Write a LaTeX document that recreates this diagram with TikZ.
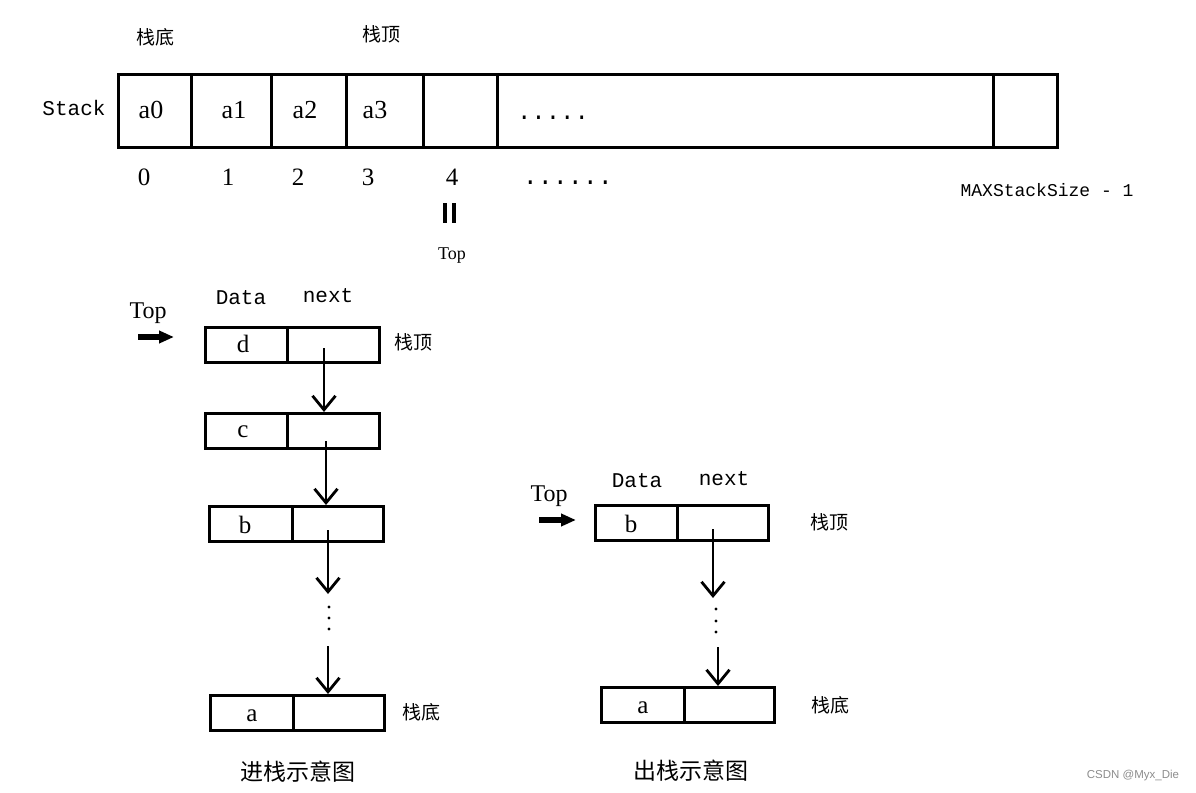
\documentclass[tikz,border=0pt]{standalone}
\usepackage{fontspec}
\setmainfont{Liberation Serif}
\setmonofont{Liberation Mono}
\setsansfont{Liberation Sans}
\newfontfamily\cjk{Noto Sans CJK SC}
\usetikzlibrary{arrows.meta}
\begin{document}
\begin{tikzpicture}[x=1pt,y=-1pt,
  cell/.style={draw, line width=3pt, inner sep=0pt, minimum height=73pt, anchor=north west},
  fld/.style={draw, line width=2.6pt, inner sep=0pt, minimum height=35pt, anchor=north west},
  val/.style={inner sep=0pt, anchor=base, font=\fontsize{25}{28}\selectfont},
  bigval/.style={inner sep=0pt, anchor=base, font=\fontsize{26}{30}\selectfont},
  mono/.style={inner sep=0pt, font=\ttfamily\fontsize{21}{25}\selectfont},
  cn/.style={inner sep=0pt, font=\cjk\fontsize{19}{23}\selectfont},
  cnbig/.style={inner sep=0pt, font=\cjk\fontsize{23}{27}\selectfont},
  link/.style={line width=2.6pt, -{Straight Barb[length=14pt,width=23pt,line width=2.8pt]}},
  fat/.style={line width=6pt, -{Triangle[length=15pt,width=12pt]}},
  vdot/.style={fill=black, draw=none}]
\useasboundingbox (0,0) rectangle (1196,792);

% ---------- array ----------
\node[cell, minimum width=73pt]  (c0) at (117,73) {};
\node[cell, minimum width=80pt]  (c1) at (190,73) {};
\node[cell, minimum width=75pt]  (c2) at (270,73) {};
\node[cell, minimum width=77pt]  (c3) at (345,73) {};
\node[cell, minimum width=74pt]  (c4) at (422,73) {};
\node[cell, minimum width=496pt] (c5) at (496,73) {};
\node[cell, minimum width=64pt]  (c6) at (992,73) {};

\node[bigval] (va0) at (151,118) {a0};
\node[bigval] (va1) at (234,118) {a1};
\node[bigval] (va2) at (305,118) {a2};
\node[bigval] (va3) at (375,118) {a3};
\node[inner sep=0pt, anchor=base, font=\ttfamily\fontsize{24}{28}\selectfont] (vdots) at (553,119) {.....};

\node[mono] (stack) at (74,108) {Stack};
\node[cn] (bot0) at (155,37) {栈底};
\node[cn] (top0) at (381,34) {栈顶};

\node[val] (i0) at (144,185) {0};
\node[val] (i1) at (228,185) {1};
\node[val] (i2) at (298,185) {2};
\node[val] (i3) at (368,185) {3};
\node[val] (i4) at (452,185) {4};
\node[inner sep=0pt, anchor=base, font=\ttfamily\fontsize{25}{28}\selectfont] (idots) at (568,184) {......};
\node[inner sep=0pt, font=\ttfamily\fontsize{18}{22}\selectfont] (imax) at (1047,190) {MAXStackSize - 1};

\coordinate (e1a) at (445,203); \coordinate (e1b) at (445,223);
\coordinate (e2a) at (454,203); \coordinate (e2b) at (454,223);
\draw[line width=3.5pt] (e1a) -- (e1b);
\draw[line width=3.5pt] (e2a) -- (e2b);
\node[inner sep=0pt, font=\fontsize{18}{22}\selectfont] (topidx) at (452,256) {Top};

% ---------- push (left) ----------
\node[inner sep=0pt, font=\fontsize{24}{28}\selectfont] (ltop) at (148,313) {Top};
\coordinate (la1) at (138,337); \coordinate (la2) at (174,337);
\draw[fat] (la1) -- (la2);
\node[mono] (ldata) at (241,298) {Data};
\node[mono] (lnext) at (328,296) {next};

\node[fld, minimum width=82pt] (dD) at (204,326) {};
\node[fld, minimum width=92pt] (nD) at (286,326) {};
\node[val] (tD) at (243,352) {d};
\node[cn] (lstop) at (413,342) {栈顶};

\node[fld, minimum width=82pt] (dC) at (204,412) {};
\node[fld, minimum width=92pt] (nC) at (286,412) {};
\node[val] (tC) at (243,437) {c};

\node[fld, minimum width=83pt] (dB) at (208,505) {};
\node[fld, minimum width=91pt] (nB) at (291,505) {};
\node[val] (tB) at (245,533) {b};

\node[fld, minimum width=83pt] (dA) at (209,694) {};
\node[fld, minimum width=91pt] (nA) at (292,694) {};
\node[val] (tA) at (252,721) {a};
\node[cn] (lsbot) at (421,712) {栈底};

\coordinate (ls1) at (324,348); \coordinate (le1) at (324,412);
\coordinate (ls2) at (326,441); \coordinate (le2) at (326,505);
\coordinate (ls3) at (328,530); \coordinate (le3) at (328,594);
\coordinate (ls4) at (328,646); \coordinate (le4) at (328,694);
\draw[link] (ls1) -- (le1);
\draw[link] (ls2) -- (le2);
\draw[link] (ls3) -- (le3);
\draw[link] (ls4) -- (le4);
\fill[vdot] (329,607) circle (1.7);
\fill[vdot] (329,618) circle (1.7);
\fill[vdot] (329,629) circle (1.7);

\node[cnbig] (lcap) at (298,772) {进栈示意图};

% ---------- pop (right) ----------
\node[inner sep=0pt, font=\fontsize{24}{28}\selectfont] (rtop) at (549,496) {Top};
\coordinate (ra1) at (539,520); \coordinate (ra2) at (576,520);
\draw[fat] (ra1) -- (ra2);
\node[mono] (rdata) at (637,481) {Data};
\node[mono] (rnext) at (724,479) {next};

\node[fld, minimum width=82pt] (rdB) at (594,504) {};
\node[fld, minimum width=91pt] (rnB) at (676,504) {};
\node[val] (rtB) at (631,532) {b};
\node[cn] (rstop) at (829,522) {栈顶};

\node[fld, minimum width=83pt] (rdA) at (600,686) {};
\node[fld, minimum width=90pt] (rnA) at (683,686) {};
\node[val] (rtA) at (643,713) {a};
\node[cn] (rsbot) at (830,705) {栈底};

\coordinate (rs1) at (713,529); \coordinate (re1) at (713,598);
\coordinate (rs2) at (718,647); \coordinate (re2) at (718,686);
\draw[link] (rs1) -- (re1);
\draw[link] (rs2) -- (re2);
\fill[vdot] (716,609) circle (1.7);
\fill[vdot] (716,621) circle (1.7);
\fill[vdot] (716,632) circle (1.7);

\node[cnbig] (rcap) at (691,771) {出栈示意图};

\node[inner sep=0pt, text=black!45, font=\sffamily\fontsize{11.5}{14}\selectfont] (wm) at (1133,776) {CSDN @Myx\_Die};
\end{tikzpicture}
\end{document}
